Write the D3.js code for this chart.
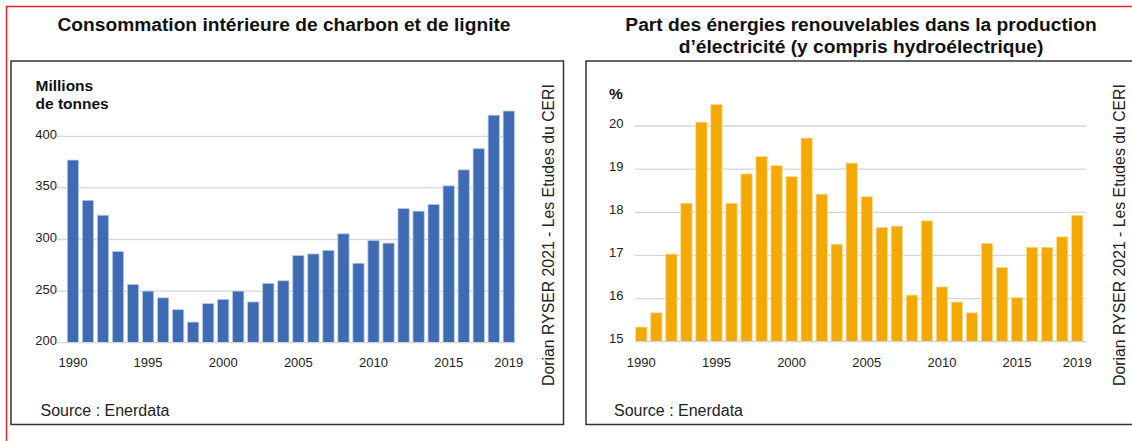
<!DOCTYPE html>
<html>
<head>
<meta charset="utf-8">
<script src="https://cdn.jsdelivr.net/npm/d3@7"></script>
<style>
  body { margin: 0; background: #fff; }
  svg { display: block; font-family: "Liberation Sans", Arial, sans-serif; }
  .title { font-weight: bold; font-size: 19.2px; fill: #111; }
  .unit { font-weight: bold; font-size: 15.5px; fill: #111; }
  .tick { font-size: 13px; fill: #222; }
  .note { font-size: 16px; fill: #222; }
  .credit { font-size: 15.8px; fill: #222; }
</style>
</head>
<body>
<div id="chart"></div>
<script>
const years = d3.range(1990, 2020)
const coal = [377, 338, 323.5, 288.5, 256.5, 250, 243.5, 232, 220, 238, 242, 250, 239.5, 257.5, 260,
  284.5, 286, 289.5, 305.5, 277, 299, 296.5, 330, 327.5, 334, 352, 367.5, 388, 420.5, 424.5]
const renew = [15.34, 15.67, 17.03, 18.21, 20.09, 20.5, 18.21, 18.89, 19.29, 19.08, 18.83, 19.72, 18.42, 17.26, 19.14,
  18.36, 17.65, 17.68, 16.08, 17.8, 16.27, 15.92, 15.67, 17.28, 16.72, 16.02, 17.19, 17.19, 17.43, 17.93]
const coalTicks = [200, 250, 300, 350, 400]
const renewTicks = [15, 16, 17, 18, 19, 20]
const yearLabels = [1990, 1995, 2000, 2005, 2010, 2015, 2019]

const W = 1132, H = 441
const svg = d3.select('#chart').append('svg')
  .attr('width', W)
  .attr('height', H)

// red outer frame, cut off on the right and bottom
svg.append('path')
  .attr('d', `M6.5,${H} V6.5 H${W}`)
  .attr('fill', 'none')
  .attr('stroke', '#e4202a')
  .attr('stroke-width', 1.5)

function drawPanel(opt) {
  const g = svg.append('g')

  g.append('path')
    .attr('d', opt.box)
    .attr('fill', 'none')
    .attr('stroke', '#333')
    .attr('stroke-width', 1.5)

  opt.title.forEach((t, i) => {
    g.append('text')
      .attr('class', 'title')
      .attr('x', opt.titleX)
      .attr('y', 31 + i * 21.7)
      .attr('text-anchor', 'middle')
      .text(t)
  })

  const x = d3.scaleBand()
    .domain(years)
    .range(opt.xRange)
    .paddingInner(0.25)
    .paddingOuter(0.125)
  const y = d3.scaleLinear()
    .domain(d3.extent(opt.ticks))
    .range(opt.yRange)

  g.selectAll('.grid')
    .data(opt.ticks.slice(1))
    .enter()
    .append('line')
    .attr('x1', opt.gridX[0])
    .attr('x2', opt.gridX[1])
    .attr('y1', d => y(d))
    .attr('y2', d => y(d))
    .attr('stroke', '#d6d6d6')
    .attr('stroke-width', 1.3)

  g.selectAll('.bar')
    .data(opt.values)
    .enter()
    .append('rect')
    .attr('x', (d, i) => x(years[i]))
    .attr('width', x.bandwidth())
    .attr('y', d => y(d))
    .attr('height', d => y(opt.ticks[0]) - y(d))
    .attr('fill', opt.color)
    .attr('stroke', opt.edge)
    .attr('stroke-width', 0.8)

  g.append('line')
    .attr('x1', opt.gridX[0])
    .attr('x2', opt.gridX[1])
    .attr('y1', y(opt.ticks[0]))
    .attr('y2', y(opt.ticks[0]))
    .attr('stroke', '#d6d6d6')
    .attr('stroke-width', 1.3)

  g.selectAll('.ylab')
    .data(opt.ticks)
    .enter()
    .append('text')
    .attr('class', 'tick')
    .attr('x', opt.labelX)
    .attr('y', d => y(d) + opt.labelDy)
    .attr('text-anchor', 'end')
    .text(d => d)

  g.selectAll('.xlab')
    .data(yearLabels)
    .enter()
    .append('text')
    .attr('class', 'tick')
    .attr('x', d => x(d) + x.bandwidth() / 2)
    .attr('y', 366.5)
    .attr('text-anchor', 'middle')
    .text(d => d)

  opt.unit.forEach((t, i) => {
    g.append('text')
      .attr('class', 'unit')
      .attr('x', opt.unitX)
      .attr('y', opt.unitY + i * 18.5)
      .text(t)
  })

  g.append('text')
    .attr('class', 'note')
    .attr('x', opt.unitX + 5)
    .attr('y', 415.5)
    .text('Source : Enerdata')

  g.append('text')
    .attr('class', 'credit')
    .attr('transform', `translate(${opt.creditX},235) rotate(-90)`)
    .attr('text-anchor', 'middle')
    .text('Dorian RYSER 2021 - Les Etudes du CERI')
}

drawPanel({
  box: 'M11,61 H563.5 V424.5 H11 Z',
  title: ['Consommation intérieure de charbon et de lignite'],
  titleX: 284,
  values: coal,
  ticks: coalTicks,
  xRange: [65.4, 516.3],
  yRange: [342.7, 136.3],
  gridX: [57.3, 515.5],
  labelX: 57,
  labelDy: 2.5,
  unit: ['Millions', 'de tonnes'],
  unitX: 35.5,
  unitY: 90.5,
  color: '#3e6bb4',
  edge: '#b9cbe9',
  creditX: 553.5
})

drawPanel({
  box: `M${W},61 H586 V424.5 H${W}`,
  title: ['Part des énergies renouvelables dans la production', 'd’électricité (y compris hydroélectrique)'],
  titleX: 861,
  values: renew,
  ticks: renewTicks,
  xRange: [633.8, 1084.7],
  yRange: [341.7, 126],
  gridX: [635, 1085.7],
  labelX: 623.5,
  labelDy: 1.5,
  unit: ['%'],
  unitX: 609,
  unitY: 99,
  color: '#f4a804',
  edge: '#fbdc93',
  creditX: 1125
})
</script>
</body>
</html>
